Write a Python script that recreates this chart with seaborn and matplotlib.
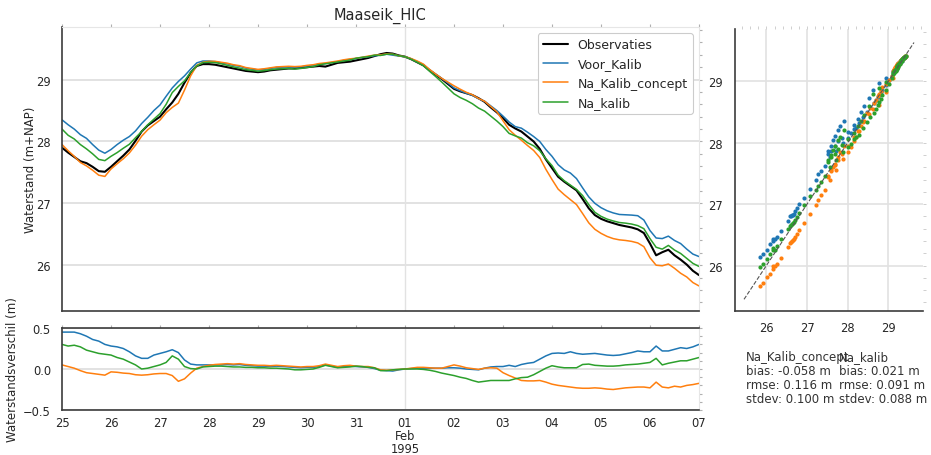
import numpy as np
import pandas as pd
import matplotlib
matplotlib.use("Agg")
import matplotlib.pyplot as plt
import matplotlib.dates as mdates
import seaborn as sns

# ---------------- data ----------------
title = "Maaseik_HIC"
series_names = ["Observaties", "Voor_Kalib", "Na_Kalib_concept", "Na_kalib"]
series_colors = ["black", "#1f77b4", "#ff7f0e", "#2ca02c"]

t_start = "1995-01-25 00:00"
t_end = "1995-02-07 00:00"
step = "3h"

# observed water level (m+NAP), every 3 hours
waterstand_obs = [
    27.90, 27.82, 27.75, 27.68, 27.65, 27.59, 27.52, 27.51, 27.59, 27.68,
    27.77, 27.87, 28.01, 28.16, 28.26, 28.33, 28.40, 28.52, 28.63, 28.77,
    28.95, 29.11, 29.22, 29.25, 29.25, 29.24, 29.22, 29.20, 29.18, 29.16,
    29.14, 29.13, 29.12, 29.13, 29.15, 29.16, 29.17, 29.18, 29.18, 29.19,
    29.20, 29.21, 29.22, 29.21, 29.24, 29.27, 29.28, 29.29, 29.31, 29.33,
    29.35, 29.38, 29.41, 29.43, 29.42, 29.39, 29.37, 29.33, 29.28, 29.23,
    29.15, 29.08, 29.01, 28.93, 28.85, 28.81, 28.78, 28.75, 28.70, 28.64,
    28.55, 28.47, 28.38, 28.27, 28.21, 28.16, 28.08, 28.00, 27.88, 27.71,
    27.57, 27.43, 27.35, 27.28, 27.21, 27.07, 26.92, 26.81, 26.75, 26.71,
    26.68, 26.65, 26.63, 26.61, 26.58, 26.52, 26.35, 26.16, 26.21, 26.25,
    26.16, 26.09, 26.01, 25.91, 25.84,
]

verschil_voor_kalib = [
    0.45, 0.45, 0.45, 0.43, 0.40, 0.36, 0.34, 0.30, 0.28, 0.27,
    0.25, 0.21, 0.16, 0.13, 0.13, 0.17, 0.19, 0.21, 0.235, 0.20,
    0.11, 0.06, 0.05, 0.05, 0.05, 0.05, 0.05, 0.055, 0.05, 0.055,
    0.045, 0.04, 0.035, 0.035, 0.03, 0.035, 0.03, 0.025, 0.02, 0.015,
    0.02, 0.02, 0.03, 0.05, 0.035, 0.02, 0.03, 0.035, 0.03, 0.025,
    0.02, 0.005, -0.015, -0.02, -0.025, -0.01, 0.0, 0.005, 0.01, 0.01,
    0.01, 0.01, 0.01, 0.015, 0.015, 0.01, 0.0, -0.005, -0.01, 0.01,
    0.025, 0.03, 0.03, 0.045, 0.03, 0.055, 0.07, 0.08, 0.12, 0.16,
    0.19, 0.195, 0.19, 0.21, 0.19, 0.18, 0.185, 0.19, 0.18, 0.17,
    0.165, 0.17, 0.185, 0.20, 0.22, 0.21, 0.21, 0.28, 0.22, 0.22,
    0.24, 0.26, 0.25, 0.27, 0.30,
]
verschil_na_kalib_concept = [
    0.05, 0.03, 0.01, -0.02, -0.045, -0.055, -0.065, -0.075, -0.035, -0.04,
    -0.05, -0.055, -0.07, -0.075, -0.07, -0.06, -0.055, -0.055, -0.08, -0.15,
    -0.12, -0.05, 0.01, 0.03, 0.045, 0.055, 0.06, 0.065, 0.06, 0.065,
    0.055, 0.05, 0.045, 0.045, 0.04, 0.045, 0.04, 0.035, 0.03, 0.025,
    0.03, 0.03, 0.04, 0.06, 0.045, 0.03, 0.04, 0.045, 0.035, 0.03,
    0.03, 0.015, -0.01, -0.015, -0.01, -0.005, 0.0, 0.01, 0.02, 0.02,
    0.015, 0.01, 0.01, 0.03, 0.05, 0.035, 0.015, 0.005, -0.005, 0.01,
    0.015, 0.01, -0.045, -0.08, -0.11, -0.14, -0.145, -0.145, -0.14, -0.16,
    -0.185, -0.20, -0.21, -0.22, -0.23, -0.235, -0.235, -0.23, -0.235, -0.245,
    -0.25, -0.24, -0.23, -0.225, -0.22, -0.22, -0.23, -0.16, -0.22, -0.23,
    -0.21, -0.22, -0.20, -0.19, -0.175,
]
verschil_na_kalib = [
    0.30, 0.28, 0.29, 0.27, 0.23, 0.21, 0.19, 0.18, 0.17, 0.14,
    0.12, 0.085, 0.05, 0.0, 0.01, 0.03, 0.05, 0.08, 0.16, 0.12,
    0.03, 0.005, 0.0, 0.025, 0.03, 0.035, 0.035, 0.03, 0.025, 0.025,
    0.02, 0.02, 0.015, 0.015, 0.01, 0.01, 0.005, 0.0, -0.01, -0.01,
    -0.005, 0.0, 0.02, 0.045, 0.03, 0.015, 0.02, 0.025, 0.035, 0.03,
    0.02, 0.015, -0.02, -0.02, -0.01, -0.005, 0.0, 0.0, 0.0, -0.005,
    -0.015, -0.03, -0.05, -0.065, -0.08, -0.10, -0.115, -0.14, -0.16, -0.15,
    -0.14, -0.14, -0.14, -0.14, -0.12, -0.105, -0.10, -0.07, -0.03, 0.01,
    0.04, 0.025, 0.015, 0.015, 0.015, 0.055, 0.06, 0.045, 0.04, 0.035,
    0.035, 0.04, 0.05, 0.055, 0.06, 0.07, 0.08, 0.13, 0.05, 0.07,
    0.085, 0.10, 0.10, 0.12, 0.14,
]

day_tick_labels = ["25", "26", "27", "28", "29", "30", "31",
                   "02", "03", "04", "05", "06", "07"]
month_tick_label = "01\nFeb\n1995"

stat_names = ["Na_Kalib_concept", "Na_kalib"]
stat_bias = [-0.058, 0.021]
stat_rmse = [0.116, 0.091]
stat_stdev = [0.100, 0.088]

diag_line = [25.45, 29.63]

# ---------------- build table ----------------
times = pd.date_range(t_start, t_end, freq=step)
obs = np.array(waterstand_obs)
diffs = [np.array(verschil_voor_kalib), np.array(verschil_na_kalib_concept),
         np.array(verschil_na_kalib)]
models = [obs + d for d in diffs]

# ---------------- style ----------------
sns.set_theme(style="whitegrid")
plt.rcParams["font.family"] = ["DejaVu Sans"]
plt.rcParams["axes.unicode_minus"] = True

GRID = "#e2e2e2"
SPINE_DARK = "#3c3c3c"
SPINE_LIGHT = "#e6e6e6"
TICKC = "#b0b0b0"

fig = plt.figure(figsize=(9.31, 4.56), dpi=100)
ax = fig.add_axes([0.0666, 0.3158, 0.6842, 0.6228])
axd = fig.add_axes([0.0666, 0.0987, 0.6842, 0.1798], sharex=ax)
axs = fig.add_axes([0.7900, 0.3158, 0.2009, 0.6184])

# main panel
sns.lineplot(x=times, y=obs, ax=ax, color=series_colors[0], lw=1.5,
             label=series_names[0])
for name, col, m in zip(series_names[1:], series_colors[1:], models):
    sns.lineplot(x=times, y=m, ax=ax, color=col, lw=1.1, label=name)

# difference panel
for col, d in zip(series_colors[1:], diffs):
    sns.lineplot(x=times, y=d, ax=axd, color=col, lw=1.1, legend=False)

# scatter panel
for col, m in zip(series_colors[1:], models):
    sns.scatterplot(x=obs, y=m, ax=axs, color=col, s=9, linewidth=0,
                    legend=False)
axs.plot(diag_line, diag_line, ls="--", color="#555555", lw=0.8)

# ---------------- axes formatting ----------------
ylim = (25.26, 29.85)
ax.set_ylim(*ylim)
ax.set_xlim(times[0], times[-1])
axd.set_ylim(-0.5, 0.5)

days = pd.date_range(t_start, t_end, freq="1D")
feb1 = pd.Timestamp("1995-02-01")
minor_days = [d for d in days if d != feb1]
axd.set_xticks([mdates.date2num(feb1)], [month_tick_label])
axd.set_xticks([mdates.date2num(d) for d in minor_days], day_tick_labels,
               minor=True)

for a in (ax, axd):
    a.grid(axis="x", which="major", color=GRID, lw=1.0)
    a.grid(axis="x", which="minor", visible=False)
    a.grid(axis="y", which="major", color=GRID, lw=1.4)
    a.grid(axis="y", which="minor", visible=False)
    a.tick_params(axis="x", which="both", top=True, bottom=False,
                  length=2.5, color=TICKC, direction="out", width=0.8)
    a.tick_params(axis="y", which="both", right=True, left=False,
                  length=2.5, color=TICKC, direction="out", width=0.8,
                  labelright=False)
    a.tick_params(axis="y", which="major", labelsize=8.3, pad=5.5)
    a.set_xlabel("")

ax.tick_params(axis="x", which="both", labelbottom=False)
axd.tick_params(axis="x", which="both", labelsize=8.3, pad=1.5)
for lbl in axd.get_xticklabels(which="both"):
    lbl.set_linespacing(1.0)

ax.set_yticks([26, 27, 28, 29])
ax.yaxis.set_minor_locator(matplotlib.ticker.MultipleLocator(0.2))
axd.set_yticks([-0.5, 0.0, 0.5])
axd.yaxis.set_minor_locator(matplotlib.ticker.MultipleLocator(0.1))

for a in (ax, axd):
    a.spines["left"].set_color(SPINE_DARK)
    a.spines["bottom"].set_color(SPINE_DARK)
    a.spines["left"].set_linewidth(1.2)
    a.spines["bottom"].set_linewidth(1.2)
    a.spines["right"].set_color(SPINE_LIGHT)
    a.spines["right"].set_linewidth(0.8)
ax.spines["top"].set_color(SPINE_LIGHT)
ax.spines["top"].set_linewidth(0.8)
axd.spines["top"].set_color(SPINE_DARK)
axd.spines["top"].set_linewidth(1.2)

ax.set_title(title, fontsize=10.5, pad=6)
ax.set_ylabel("Waterstand (m+NAP)", fontsize=8.5)
ax.yaxis.set_label_coords(-0.040, 0.5)
axd.set_ylabel("Waterstandsverschil (m)", fontsize=8.5)
axd.yaxis.set_label_coords(-0.0675, 0.5)

leg = ax.legend(loc="upper right", fontsize=9, frameon=True, framealpha=1,
                edgecolor="#cccccc", fancybox=True, borderaxespad=0.5)
leg.get_frame().set_linewidth(0.8)

# scatter axes
axs.set_xlim(25.24, 29.84)
axs.set_ylim(*ylim)
axs.set_xticks([26, 27, 28, 29])
axs.set_yticks([26, 27, 28, 29])
axs.xaxis.set_minor_locator(matplotlib.ticker.MultipleLocator(0.2))
axs.yaxis.set_minor_locator(matplotlib.ticker.MultipleLocator(0.2))
axs.grid(which="major", color=GRID, lw=1.2)
axs.grid(which="minor", visible=False)
axs.tick_params(axis="x", which="both", top=True, bottom=False, length=2,
                color="#cfcfcf", width=0.7, labelsize=8.3, pad=5)
axs.tick_params(axis="y", which="both", right=True, left=False, length=2,
                color="#cfcfcf", width=0.7, labelsize=8.3, pad=7)
axs.set_xlabel("")
axs.set_ylabel("")
for sp in ("left", "bottom"):
    axs.spines[sp].set_color(SPINE_DARK)
    axs.spines[sp].set_linewidth(1.2)
for sp in ("top", "right"):
    axs.spines[sp].set_visible(False)

# statistics text
stat_x = [0.801, 0.901]
for x, n, b, r, s in zip(stat_x, stat_names, stat_bias, stat_rmse, stat_stdev):
    txt = f"{n}\nbias: {b:.3f} m\nrmse: {r:.3f} m\nstdev: {s:.3f} m"
    fig.text(x, 0.231, txt, ha="left", va="top", fontsize=8.5,
             linespacing=1.1, color="#333333")

fig.savefig("out.png", dpi=100)
